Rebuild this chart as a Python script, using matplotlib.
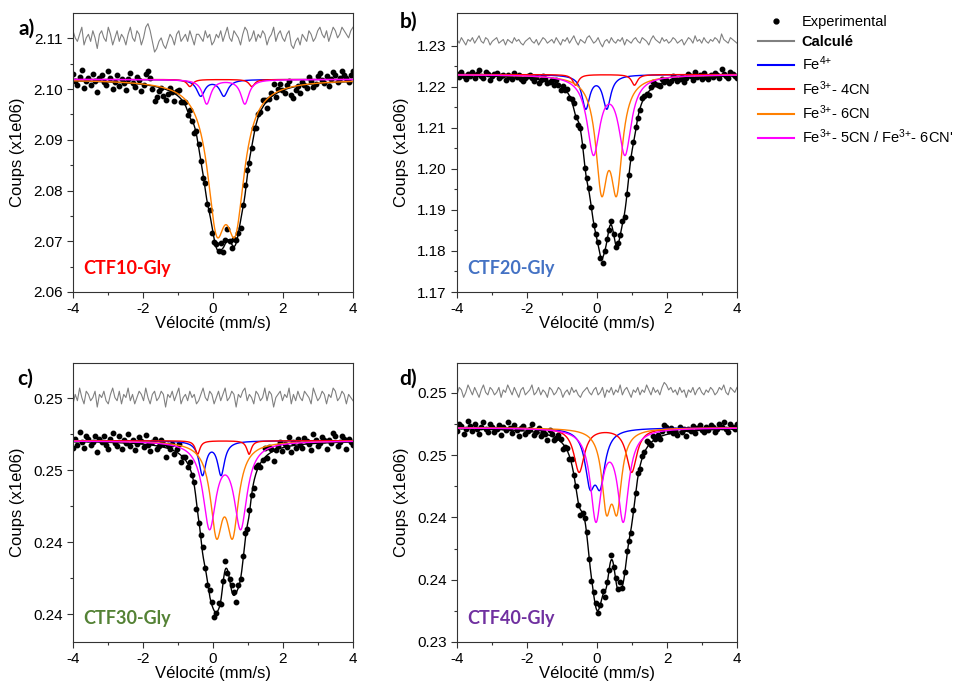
import numpy as np
import matplotlib
matplotlib.use("Agg")
import matplotlib.pyplot as plt
from matplotlib.lines import Line2D
from matplotlib.ticker import FixedLocator, FixedFormatter, MultipleLocator

plt.rcParams['font.family'] = ['Liberation Sans', 'DejaVu Sans']
plt.rcParams['mathtext.fontset'] = 'custom'
plt.rcParams['mathtext.rm'] = 'Liberation Sans'
plt.rcParams['mathtext.it'] = 'Liberation Sans'
plt.rcParams['mathtext.bf'] = 'Liberation Sans:bold'
plt.rcParams['axes.unicode_minus'] = False

# ordre des composantes : Fe4+, Fe3+ 4CN, Fe3+ 6CN, Fe3+ 5CN/6CN'
comp_colors = ['#0000ff', '#ff0000', '#ff8000', '#ff00ff']
comp_labels = ['Fe$^{4{+}}$', 'Fe$^{3{+}}$- 4CN', 'Fe$^{3{+}}$- 6CN', "Fe$^{3{+}}$- 5CN / Fe$^{3{+}}$- 6CN'"]

# a) CTF10-Gly
a_base = 2.1019
a_c1 = [-0.35, -0.66, 0.10, -0.18]
a_c2 = [0.31, 1.11, 0.64, 0.91]
a_depth = [0.0032, 0.0014, 0.0245, 0.0048]
a_hwhm = [0.14, 0.10, 0.32, 0.14]
a_res = 2.1101
a_noise = [2, 0, -1, 1, 3, -2, 0, 1, -1, 2, 0, -3, 1, 2, 0, -1, 3, 1, -2, 0, 2, -1, 1, 0, -2, 1, 3, 0, -1, 2, 1, -2,
           0, 3, 4, 2, -1, -4, -3, -1, 0, -2, -3, -1, 1, 0, -2, 1, 2, -1, 0, 1, -1, 2, 0, -2, 1, 1, 0, -1, 2, 0, 1, -2,
           -1, 1, 0, 2, -1, 1, 3, 0, -1, 2, 1, 0, -2, 1, 3, 2, -1, 0, 2, -1, 1, 0, 2, 1, -2, 0, 1, 3, -1, 1, 2, 0,
           -1, 1, 2, -2, -3, -1, 0, -2, 1, 0, -1, 2, 1, -1, 0, 2, 3, 1, 0, 2, -1, 1, 3, 2, 0, 1, 3, 2, 1, 0, 2, 3]
a_scale = 0.0007
a_yticks = [2.06, 2.07, 2.08, 2.09, 2.10, 2.11]
a_ylabels = ['2.06', '2.07', '2.08', '2.09', '2.10', '2.11']
a_ylim = (2.06, 2.115)

# b) CTF20-Gly
b_base = 1.2230
b_c1 = [-0.32, -0.61, 0.13, -0.10]
b_c2 = [0.28, 1.07, 0.56, 0.80]
b_depth = [0.0081, 0.0026, 0.0252, 0.0187]
b_hwhm = [0.135, 0.10, 0.20, 0.22]
b_res = 1.2311
b_noise = [1, -1, 2, 0, -2, 1, 0, 2, -1, 1, 3, 0, -1, 2, 1, -2, 0, 1, 2, -1, 0, 1, -2, 1, 0, -1, 2, 0, 1, -1, -2, 0,
           1, 2, 0, -1, 1, -2, 0, 2, 1, -1, 0, 1, -1, 2, 0, -2, 1, 0, 2, -1, 1, 3, 0, -2, 1, 0, -1, 2, 3, 1, -1, 0,
           2, -1, -3, 0, 1, -1, 2, 0, -1, 1, 0, 2, -2, 1, 0, -1, 1, 2, 0, -1, 2, 1, 0, -2, 1, 3, 1, 0, -1, 2, 0, 1,
           -1, 0, 2, 1, -1, 0, 1, -2, 0, 2, 1, -1, 3, 0, 1, -1, 2, 0, -1, 1, 0, 2, 1, -1, 4, 1, 0, -1, 2, 1, 0, -1]
b_scale = 0.00045
b_yticks = [1.17, 1.18, 1.19, 1.20, 1.21, 1.22, 1.23]
b_ylabels = ['1.17', '1.18', '1.19', '1.20', '1.21', '1.22', '1.23']
b_ylim = (1.17, 1.238)

# c) CTF30-Gly
c_base = 0.24852
c_c1 = [-0.30, -0.44, 0.10, -0.10]
c_c2 = [0.23, 1.03, 0.56, 0.79]
c_depth = [0.00116, 0.00047, 0.00291, 0.00292]
c_hwhm = [0.12, 0.08, 0.21, 0.225]
c_res = 0.25002
c_noise = [-2, 1, -1, 3, 0, -2, 2, 1, -1, 0, 2, -3, 1, 0, 2, -1, -2, 1, 3, 0, -1, 2, -2, 1, 0, 3, -1, 1, -2, 0, 2, 1,
           -1, 3, 0, -2, 1, 2, -1, 0, 2, 1, -3, 1, 0, 2, -1, 1, 3, -2, 0, 1, -1, 2, 0, 1, -2, -1, 1, 3, 0, -1, 2, 1,
           -2, 0, 2, -1, 1, 3, -1, 0, 2, 1, -3, 1, 0, 2, 3, -1, 1, 0, -2, 2, 1, -1, 0, 3, -1, 2, 1, -3, 0, 1, 2, -1,
           1, 0, 3, -2, 1, -1, 2, 0, -1, 2, 1, 0, -2, 3, 1, -1, 0, 2, 1, -2, 1, 0, 3, 2, -1, 0, 2, 1, -2, 1, 0, -1]
c_scale = 0.00011
c_yticks = [0.2425, 0.2450, 0.2475, 0.2500]
c_ylabels = ['0.24', '0.24', '0.25', '0.25']
c_ylim = (0.24153, 0.25122)

# d) CTF40-Gly
d_base = 0.24860
d_c1 = [-0.20, -0.51, 0.27, -0.03]
d_c2 = [0.09, 0.99, 0.57, 0.75]
d_depth = [0.00199, 0.00177, 0.00288, 0.00360]
d_hwhm = [0.17, 0.18, 0.16, 0.19]
d_res = 0.25002
d_noise = [-1, 2, 1, -2, 0, 3, 1, -1, 2, 0, -2, 1, 3, 0, -1, 2, 1, -1, 0, 2, -2, 1, 0, 3, 1, -1, 2, 0, -2, 1, 2, -1,
           0, 1, 3, -1, 0, 2, -1, 1, 0, -2, 2, 1, -1, 0, 2, 1, -2, 0, 1, -1, 2, 0, 1, -1, -2, 0, 1, 2, 0, -1, 1, 2,
           -1, 0, 2, -2, 1, 0, 2, -1, 1, 0, 3, -1, 1, 2, 0, -2, 1, 0, 2, -1, 1, 0, 3, 1, -1, 2, 0, 1, -1, 2, 4, 3,
           1, 2, 0, 1, -1, 2, 0, 1, -2, 1, 0, 2, -1, 1, 2, 0, -1, 1, 0, 2, 1, -1, 0, 2, 1, 3, 0, -1, 2, 1, 0, 2]
d_scale = 0.0001
d_yticks = [0.2400, 0.2425, 0.2450, 0.2475, 0.2500]
d_ylabels = ['0.23', '0.24', '0.24', '0.25', '0.25']
d_ylim = (0.2400, 0.2512)

panels = [
    ('a)', 'CTF10-Gly', '#ff0000', a_base, a_c1, a_c2, a_depth, a_hwhm, a_res, a_noise, a_scale, a_yticks, a_ylabels, a_ylim),
    ('b)', 'CTF20-Gly', '#4472c4', b_base, b_c1, b_c2, b_depth, b_hwhm, b_res, b_noise, b_scale, b_yticks, b_ylabels, b_ylim),
    ('c)', 'CTF30-Gly', '#548235', c_base, c_c1, c_c2, c_depth, c_hwhm, c_res, c_noise, c_scale, c_yticks, c_ylabels, c_ylim),
    ('d)', 'CTF40-Gly', '#7030a0', d_base, d_c1, d_c2, d_depth, d_hwhm, d_res, d_noise, d_scale, d_yticks, d_ylabels, d_ylim),
]


def doublets(v, base, c1, c2, depth, hwhm):
    comps = []
    for i in range(len(depth)):
        g2 = hwhm[i] ** 2
        dip = depth[i] * (g2 / ((v - c1[i]) ** 2 + g2) + g2 / ((v - c2[i]) ** 2 + g2))
        comps.append(dip)
    total = base - np.sum(comps, axis=0)
    return [base - c for c in comps], total


W, H = 954, 688
fig = plt.figure(figsize=(W / 100, H / 100), dpi=100)
boxes = [(73, 13), (457, 13), (73, 363), (457, 363)]
tags = [(27, 29), (409, 22), (25, 379), (408, 379)]

v_fine = np.linspace(-4, 4, 600)

for k, p in enumerate(panels):
    tag, name, ncol, base, c1, c2, depth, hwhm, res, noise, scale, yt, yl, ylim = p
    x0, y0 = boxes[k]
    ax = fig.add_axes([x0 / W, 1 - (y0 + 279) / H, 280 / W, 279 / H])

    noise = np.array(noise)
    v_exp = np.linspace(-4, 4, len(noise))
    comps, total = doublets(v_fine, base, c1, c2, depth, hwhm)
    _, total_exp = doublets(v_exp, base, c1, c2, depth, hwhm)

    ax.plot(v_exp, res + noise * scale, color='#808080', lw=0.8)
    ax.plot(v_exp, total_exp + noise * scale, 'o', color='black', ms=3.2)
    ax.plot(v_fine, total, color='black', lw=1.0)
    for col, comp in zip(comp_colors, comps):
        ax.plot(v_fine, comp, color=col, lw=1.0)

    ax.set_xlim(-4, 4)
    ax.set_ylim(*ylim)
    ax.xaxis.set_major_locator(MultipleLocator(2))
    ax.xaxis.set_minor_locator(MultipleLocator(1))
    ax.yaxis.set_major_locator(FixedLocator(yt))
    ax.yaxis.set_major_formatter(FixedFormatter(yl))
    ax.yaxis.set_minor_locator(FixedLocator([(yt[i] + yt[i + 1]) / 2 for i in range(len(yt) - 1)]))
    ax.tick_params(which='major', length=4, width=0.8, labelsize=11, color='#333333')
    ax.tick_params(which='minor', length=2.5, width=0.8, color='#333333')
    for s in ax.spines.values():
        s.set_linewidth(0.8)
        s.set_color('#333333')
    ax.set_xlabel('Vélocité (mm/s)', fontsize=12, labelpad=0)
    ax.set_ylabel('Coups (x1e06)', fontsize=12, labelpad=6)

    ax.text(0.036, 0.085, name, transform=ax.transAxes, color=ncol, fontsize=13,
            fontweight='bold', family='Lato', va='center', ha='left')
    fig.text(tags[k][0] / W, 1 - tags[k][1] / H, tag, fontsize=15, fontweight='bold',
             family='Lato', va='center', ha='center')

handles = [Line2D([], [], ls='none', marker='o', color='black', ms=3.5),
           Line2D([], [], color='#808080', lw=1.5)]
handles += [Line2D([], [], color=c, lw=1.5) for c in comp_colors]
labels = ['Experimental', 'Calculé'] + comp_labels
leg = fig.legend(handles, labels, loc='upper left', bbox_to_anchor=(752 / W, 1 - 9 / H),
                 frameon=False, fontsize=10.5, handlelength=2.5, handletextpad=0.5,
                 labelspacing=0.4, borderaxespad=0)
leg.get_texts()[1].set_fontweight('bold')

fig.savefig('out.png', dpi=100)
